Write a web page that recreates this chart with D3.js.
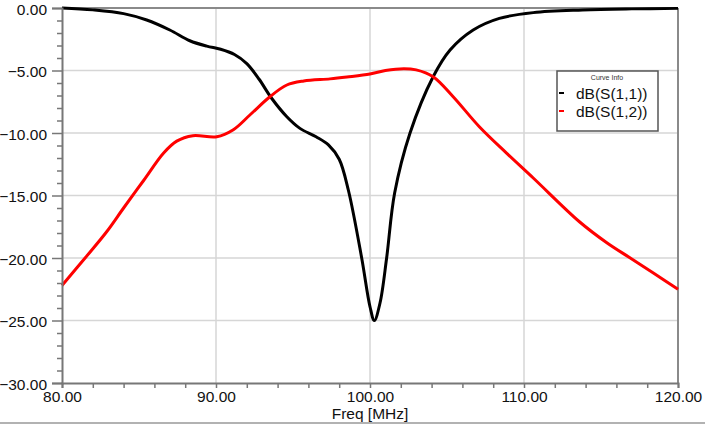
<!DOCTYPE html>
<html>
<head>
<meta charset="utf-8">
<script src="https://cdn.jsdelivr.net/npm/d3@7"></script>
<style>
  html, body { margin: 0; padding: 0; background: #fff; }
  svg { display: block; }
  text { font-family: "Liberation Sans", Arial, sans-serif; }
</style>
</head>
<body>
<svg id="chart" width="705" height="424"></svg>
<script>
// ---- data ----
const s11Freq = [80, 82, 84, 85.5, 87, 88.3, 89.4, 90.3, 91.2, 92.0, 92.8, 93.6, 94.6, 95.45, 96.5, 97.3, 98.0, 98.6, 99.46, 100.0, 100.28, 100.65, 101.08, 101.6, 102.6, 104.1, 105.2, 106.7, 108.4, 110.6, 113.8, 117, 120];
const s11dB   = [0, -0.15, -0.45, -0.96, -1.76, -2.62, -3.05, -3.3, -3.72, -4.45, -5.7, -7.2, -8.7, -9.63, -10.3, -10.95, -12.1, -14.6, -20.0, -23.9, -25.0, -23.6, -20.0, -14.8, -10.0, -5.5, -3.36, -1.76, -0.83, -0.37, -0.16, -0.07, -0.03];

const s12Freq = [80, 81.5, 82.9, 84.0, 85.3, 86.6, 87.45, 88.5, 90.05, 91.1, 92.2, 93.5, 94.6, 95.7, 97.4, 98.5, 100.0, 101.0, 102.2, 103.0, 104.1, 105.4, 107.1, 108.9, 110.6, 113.6, 115.4, 116.9, 118.4, 120];
const s12dB   = [-22.2, -20.0, -17.9, -16.0, -13.8, -11.6, -10.65, -10.22, -10.3, -9.76, -8.56, -7.1, -6.16, -5.84, -5.67, -5.52, -5.28, -5.0, -4.85, -4.95, -5.5, -7.1, -9.5, -11.65, -13.6, -17.1, -18.8, -20.0, -21.2, -22.5];

const xTicks = [80, 90, 100, 110, 120];
const xMinorTicks = [82, 84, 86, 88, 92, 94, 96, 98, 102, 104, 106, 108, 112, 114, 116, 118];
const yTicks = [0, -5, -10, -15, -20, -25, -30];
const yMinorTicks = [-1, -2, -3, -4, -6, -7, -8, -9, -11, -12, -13, -14, -16, -17, -18, -19, -21, -22, -23, -24, -26, -27, -28, -29];

const seriesNames = ["dB(S(1,1))", "dB(S(1,2))"];
const seriesColors = ["#000000", "#ff0000"];
const xTitle = "Freq [MHz]";
const legendTitle = "Curve Info";

// ---- chart ----
const svg = d3.select("#chart");
const L = 62, R = 678, T = 8, B = 383;
const x = d3.scaleLinear().domain([80, 120]).range([L, R]);
const y = d3.scaleLinear().domain([-30, 0]).range([B, T]);

// grid
const grid = svg.append("g");
grid.selectAll(".vg").data(xTicks.slice(1, -1)).join("line")
  .attr("x1", d => x(d)).attr("x2", d => x(d)).attr("y1", T).attr("y2", B)
  .attr("stroke", "#d6d6d6").attr("stroke-width", 1.5);
grid.selectAll(".hg").data(yTicks.slice(1, -1)).join("line")
  .attr("x1", L).attr("x2", R).attr("y1", d => y(d)).attr("y2", d => y(d))
  .attr("stroke", "#d6d6d6").attr("stroke-width", 1.5);

// frame top & right
svg.append("line").attr("x1", L).attr("x2", R).attr("y1", T).attr("y2", T)
  .attr("stroke", "#8a8a8a").attr("stroke-width", 2);
svg.append("line").attr("x1", R).attr("x2", R).attr("y1", T).attr("y2", B)
  .attr("stroke", "#8a8a8a").attr("stroke-width", 2);

// curves
const series = [
  { f: s11Freq, v: s11dB },
  { f: s12Freq, v: s12dB }
];
const line = d3.line().x(d => x(d[0])).y(d => y(d[1])).curve(d3.curveCatmullRom.alpha(0.5));
series.forEach((s, i) => {
  svg.append("path")
    .datum(s.f.map((f, k) => [f, s.v[k]]))
    .attr("fill", "none")
    .attr("stroke", seriesColors[i])
    .attr("stroke-width", 3)
    .attr("stroke-linejoin", "round")
    .attr("d", line);
});

// axes
const fmt = d3.format(".2f");
const axisColor = "#777";
const yAxis = svg.append("g").attr("transform", `translate(${L},0)`)
  .call(d3.axisLeft(y).tickValues(yTicks).tickFormat(fmt).tickSize(10).tickPadding(5));
const yMinor = svg.append("g").attr("transform", `translate(${L},0)`)
  .call(d3.axisLeft(y).tickValues(yMinorTicks).tickFormat("").tickSize(5));
const xAxis = svg.append("g").attr("transform", `translate(0,${B})`)
  .call(d3.axisBottom(x).tickValues(xTicks).tickFormat(fmt).tickSize(5).tickPadding(5));
const xMinor = svg.append("g").attr("transform", `translate(0,${B})`)
  .call(d3.axisBottom(x).tickValues(xMinorTicks).tickFormat("").tickSize(5));
[yAxis, yMinor, xAxis, xMinor].forEach(g => {
  g.select(".domain").attr("stroke", axisColor).attr("stroke-width", 2);
  g.selectAll(".tick line").attr("stroke", axisColor).attr("stroke-width", 1.5);
  g.selectAll("text").attr("font-size", 15.5).attr("fill", "#111")
    .attr("font-family", "'Liberation Sans', Arial, sans-serif");
});
yMinor.select(".domain").remove();
xMinor.select(".domain").remove();
yAxis.selectAll("text").attr("dy", "0.4em");
xAxis.selectAll("text").attr("dy", "0.6em");

// x title
svg.append("text").attr("x", x(100)).attr("y", 419)
  .attr("text-anchor", "middle").attr("font-size", 15.5).attr("fill", "#111")
  .text(xTitle);

// bottom rule
svg.append("line").attr("x1", 0).attr("x2", 705).attr("y1", 423).attr("y2", 423)
  .attr("stroke", "#999").attr("stroke-width", 1.5);

// legend
const lg = svg.append("g");
lg.append("rect").attr("x", 557).attr("y", 71).attr("width", 101).attr("height", 60)
  .attr("fill", "#fff").attr("stroke", "#555").attr("stroke-width", 1.5);
lg.append("text").attr("x", 607).attr("y", 80).attr("text-anchor", "middle")
  .attr("font-size", 7).attr("fill", "#333").text(legendTitle);
seriesNames.forEach((name, i) => {
  const yy = 93 + i * 18;
  lg.append("line").attr("x1", 559).attr("x2", 564).attr("y1", yy).attr("y2", yy)
    .attr("stroke", seriesColors[i]).attr("stroke-width", 2);
  lg.append("text").attr("x", 576).attr("y", yy).attr("dy", "0.36em")
    .attr("font-size", 15.5).attr("fill", "#111").text(name);
});
</script>
</body>
</html>
